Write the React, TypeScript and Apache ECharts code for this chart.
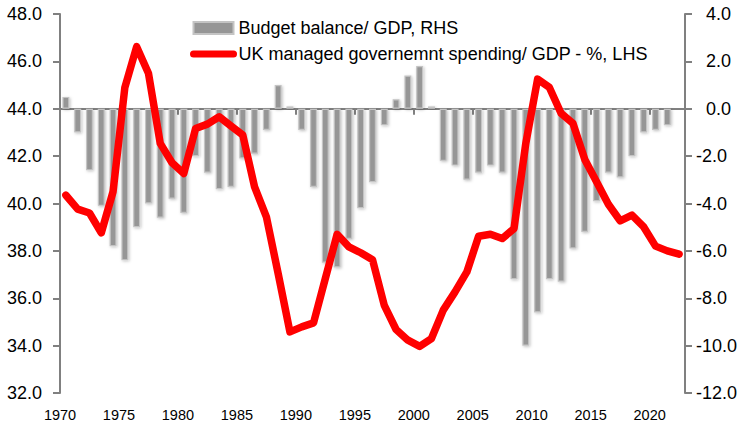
import React, { useEffect, useRef } from "react";
import * as echarts from "echarts";

const years = [
  1970, 1971, 1972, 1973, 1974, 1975, 1976, 1977, 1978, 1979,
  1980, 1981, 1982, 1983, 1984, 1985, 1986, 1987, 1988, 1989,
  1990, 1991, 1992, 1993, 1994, 1995, 1996, 1997, 1998, 1999,
  2000, 2001, 2002, 2003, 2004, 2005, 2006, 2007, 2008, 2009,
  2010, 2011, 2012, 2013, 2014, 2015, 2016, 2017, 2018, 2019,
  2020, 2021, 2022,
];

// Budget balance / GDP (RHS), 1970–2021
const budgetBalance = [
  0.5, -1.0, -2.6, -4.1, -5.8, -6.4, -5.0, -4.0, -4.6, -3.8,
  -4.4, -2.0, -2.7, -3.4, -3.3, -2.1, -1.9, -0.9, 1.0, 0.1,
  -0.9, -3.3, -6.5, -6.7, -5.5, -4.2, -3.1, -0.7, 0.4, 1.4,
  1.8, 0.1, -2.2, -2.4, -3.0, -2.7, -2.4, -2.7, -7.2, -10.0,
  -8.6, -7.2, -7.3, -5.9, -5.2, -3.9, -2.7, -2.9, -2.0, -1.0,
  -0.9, -0.7,
];

// UK managed government spending / GDP % (LHS), 1970–2022
const spending = [
  40.35, 39.76, 39.6, 38.76, 40.5, 44.9, 46.62, 45.5, 42.54, 41.72,
  41.27, 43.17, 43.35, 43.66, 43.27, 42.89, 40.7, 39.44, 37.04, 34.58,
  34.79, 34.96, 36.83, 38.7, 38.17, 37.92, 37.63, 35.7, 34.68, 34.23,
  33.97, 34.3, 35.5, 36.27, 37.11, 38.62, 38.7, 38.52, 38.94, 42.54,
  45.25, 44.9, 43.8, 43.38, 41.86, 40.92, 39.97, 39.27, 39.51, 39.01,
  38.2, 38.0, 37.86,
];

const barName = "Budget balance/ GDP, RHS";
const lineName = "UK managed governemnt spending/ GDP - %, LHS";

const FONT = "Liberation Sans, Arial, sans-serif";
const AXIS_GRAY = "#808080";

export default function App() {
  const ref = useRef<HTMLDivElement>(null);

  useEffect(() => {
    document.body.style.margin = "0";
    if (!ref.current) return;
    const chart = echarts.init(ref.current, null, { renderer: "svg" });

    const barData = budgetBalance.map((v, i) => [years[i] + 0.5, v]);
    const lineData = spending.map((v, i) => [years[i] + 0.5, v]);

    chart.setOption({
      animation: false,
      backgroundColor: "#ffffff",
      textStyle: { fontFamily: FONT },
      grid: { left: 60, right: 67, top: 14, bottom: 45, containLabel: false },
      legend: {
        orient: "vertical",
        left: 185,
        top: 14,
        itemWidth: 40,
        itemHeight: 12,
        itemGap: 8,
        textStyle: { fontSize: 18, color: "#000", fontFamily: FONT, lineHeight: 18 },
        data: [
          { name: barName, icon: "rect" },
          {
            name: lineName,
            itemStyle: { opacity: 0, color: "rgba(0,0,0,0)", borderWidth: 0 },
            lineStyle: { width: 7, color: "#ff0000", cap: "round" },
          },
        ],
      },
      xAxis: {
        type: "value",
        min: 1970,
        max: 2023,
        interval: 5,
        splitLine: { show: false },
        axisLine: { show: true, lineStyle: { color: AXIS_GRAY, width: 2 } },
        axisTick: { show: true, length: 6, lineStyle: { color: AXIS_GRAY, width: 2 } },
        axisLabel: {
          color: "#000",
          fontSize: 14.5,
          fontFamily: FONT,
          margin: 14,
          showMaxLabel: false,
          formatter: (v: number) => (v % 5 === 0 ? String(v) : ""),
        },
      },
      yAxis: [
        {
          type: "value",
          min: 32,
          max: 48,
          interval: 2,
          position: "left",
          splitLine: { show: false },
          axisLine: { show: true, lineStyle: { color: AXIS_GRAY, width: 2 } },
          axisTick: { show: true, length: 7, lineStyle: { color: AXIS_GRAY, width: 2 } },
          axisLabel: {
            color: "#000",
            fontSize: 18,
            fontFamily: FONT,
            margin: 18,
            formatter: (v: number) => v.toFixed(1),
          },
        },
        {
          type: "value",
          min: -12,
          max: 4,
          interval: 2,
          position: "right",
          splitLine: { show: false },
          axisLine: { show: true, lineStyle: { color: AXIS_GRAY, width: 2 } },
          axisTick: { show: true, length: 7, lineStyle: { color: AXIS_GRAY, width: 2 } },
          axisLabel: {
            color: "#000",
            fontSize: 18,
            fontFamily: FONT,
            margin: 11,
            formatter: (v: number) => (v < 0 ? v.toFixed(1) : "{p|" + v.toFixed(1) + "}"),
            rich: {
              p: { padding: [0, 0, 0, 10], fontSize: 18, fontFamily: FONT, color: "#000" },
            },
          },
        },
      ],
      series: [
        {
          name: barName,
          type: "bar",
          yAxisIndex: 1,
          barWidth: 7,
          data: barData,
          itemStyle: {
            color: "#969696",
            borderColor: "#c4c4c4",
            borderWidth: 1.2,
            shadowBlur: 3,
            shadowColor: "rgba(0,0,0,0.25)",
            shadowOffsetX: 1,
            shadowOffsetY: 1,
          },
        },
        {
          name: lineName,
          type: "line",
          yAxisIndex: 0,
          data: lineData,
          symbol: "none",
          smooth: false,
          lineStyle: { color: "#ff0000", width: 7.5, cap: "round", join: "round" },
          itemStyle: { color: "#ff0000" },
          z: 5,
        },
      ],
    });

    return () => chart.dispose();
  }, []);

  return <div ref={ref} style={{ width: 752, height: 438 }} />;
}
